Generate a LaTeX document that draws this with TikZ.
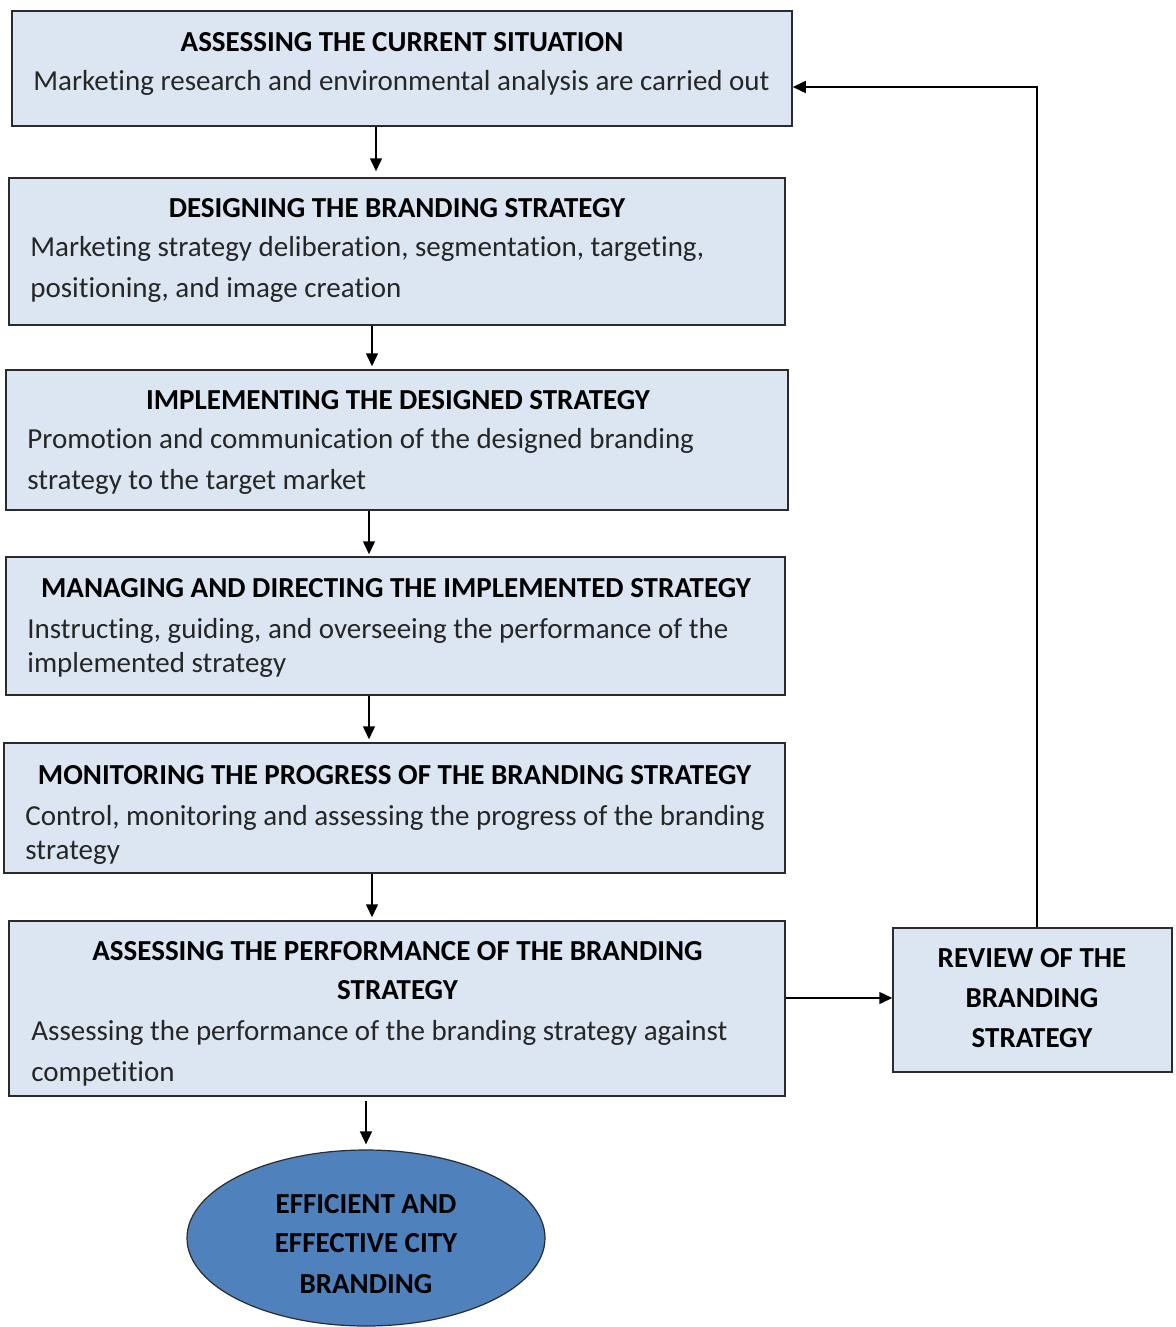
\documentclass[tikz,border=0pt]{standalone}
\usepackage{fontspec}
\setmainfont{Carlito}[Ligatures=NoCommon]
\usetikzlibrary{arrows.meta,shapes.geometric}
\definecolor{boxfill}{HTML}{DCE6F2}
\definecolor{ovalfill}{HTML}{4F81BD}
\definecolor{edge}{HTML}{2B2B2B}
\begin{document}
\begin{tikzpicture}[x=0.5pt,y=-0.5pt,
  stepbox/.style={draw=edge,line width=0.75pt,fill=boxfill,rectangle,inner sep=0pt},
  ttl/.style={font=\fontsize{14.5}{17}\selectfont\bfseries,inner sep=0pt,anchor=base,yshift=-0.8pt},
  body/.style={font=\fontsize{14.5}{17}\selectfont,inner sep=0pt,anchor=base west,text=black!85,yshift=-0.8pt},
  arr/.style={draw=black,line width=0.75pt,-{Triangle[length=6.5pt,width=6pt]}}]
\useasboundingbox (0,0) rectangle (1176,1327);

% process boxes
\node[stepbox,minimum width=390pt,minimum height=57.5pt] (b1) at (402,68.5) {};
\node[stepbox,minimum width=388pt,minimum height=73.5pt] (b2) at (397,251.5) {};
\node[stepbox,minimum width=391pt,minimum height=70pt] (b3) at (397,440) {};
\node[stepbox,minimum width=389.5pt,minimum height=69pt] (b4) at (395.5,626) {};
\node[stepbox,minimum width=390.5pt,minimum height=65pt] (b5) at (394.5,808) {};
\node[stepbox,minimum width=388pt,minimum height=87.5pt] (b6) at (397,1008.5) {};
\node[stepbox,minimum width=139.5pt,minimum height=72pt] (rev) at (1032.5,1000) {};
\node[draw=edge,line width=0.6pt,fill=ovalfill,ellipse,inner sep=0pt,minimum width=179pt,minimum height=88pt] (goal) at (366,1238) {};

% texts
\node[ttl] (t1) at (402,50) {ASSESSING THE CURRENT SITUATION};
\node[body] (d1) at (33,89) {Marketing research and environmental analysis are carried out};

\node[ttl] (t2) at (397,215.5) {DESIGNING THE BRANDING STRATEGY};
\node[body] (d2a) at (30,254.5) {Marketing strategy deliberation, segmentation, targeting,};
\node[body] (d2b) at (30,295.5) {positioning, and image creation};

\node[ttl] (t3) at (398,407.5) {IMPLEMENTING THE DESIGNED STRATEGY};
\node[body] (d3a) at (27,446.5) {Promotion and communication of the designed branding};
\node[body] (d3b) at (27,487.5) {strategy to the target market};

\node[ttl] (t4) at (396,595.5) {MANAGING AND DIRECTING THE IMPLEMENTED STRATEGY};
\node[body] (d4a) at (27,636.5) {Instructing, guiding, and overseeing the performance of the};
\node[body] (d4b) at (27,670.5) {implemented strategy};

\node[ttl] (t5) at (394.5,782.5) {MONITORING THE PROGRESS OF THE BRANDING STRATEGY};
\node[body] (d5a) at (25,823.5) {Control, monitoring and assessing the progress of the branding};
\node[body] (d5b) at (25,857.5) {strategy};

\node[ttl] (t6a) at (397.5,958.5) {ASSESSING THE PERFORMANCE OF THE BRANDING};
\node[ttl] (t6b) at (397.5,997.5) {STRATEGY};
\node[body] (d6a) at (31,1038.5) {Assessing the performance of the branding strategy against};
\node[body] (d6b) at (31,1079.5) {competition};

\node[ttl] (r1) at (1032,965.5) {REVIEW OF THE};
\node[ttl] (r2) at (1032,1005.5) {BRANDING};
\node[ttl] (r3) at (1032,1045.5) {STRATEGY};

\node[ttl] (g1) at (366,1211.5) {EFFICIENT AND};
\node[ttl] (g2) at (366,1250.5) {EFFECTIVE CITY};
\node[ttl] (g3) at (366,1291.5) {BRANDING};

% connector columns
\coordinate (c1) at (376,0);
\coordinate (c2) at (372,0);
\coordinate (c3) at (369,0);
\coordinate (c4) at (369,0);
\coordinate (c5) at (372,0);
\coordinate (c6) at (366,0);
\coordinate (cr) at (1037,0);
\coordinate (rowback) at (0,87);
\coordinate (rowside) at (0,998);

% connectors
\draw[arr,shorten >=3pt] (c1 |- b1.south) -- (c1 |- b2.north);
\draw[arr,shorten >=1.5pt] (c2 |- b2.south) -- (c2 |- b3.north);
\draw[arr,shorten >=1pt] (c3 |- b3.south) -- (c3 |- b4.north);
\draw[arr,shorten >=1.5pt] (c4 |- b4.south) -- (c4 |- b5.north);
\draw[arr,shorten >=1.5pt] (c5 |- b5.south) -- (c5 |- b6.north);
\draw[arr,shorten <=2pt,shorten >=2.5pt] (c6 |- b6.south) -- (goal.north);
\draw[arr] (b6.east |- rowside) -- (rev.west |- rowside);
\draw[arr] (cr |- rev.north) -- (cr |- rowback) -- (b1.east |- rowback);
\end{tikzpicture}
\end{document}
